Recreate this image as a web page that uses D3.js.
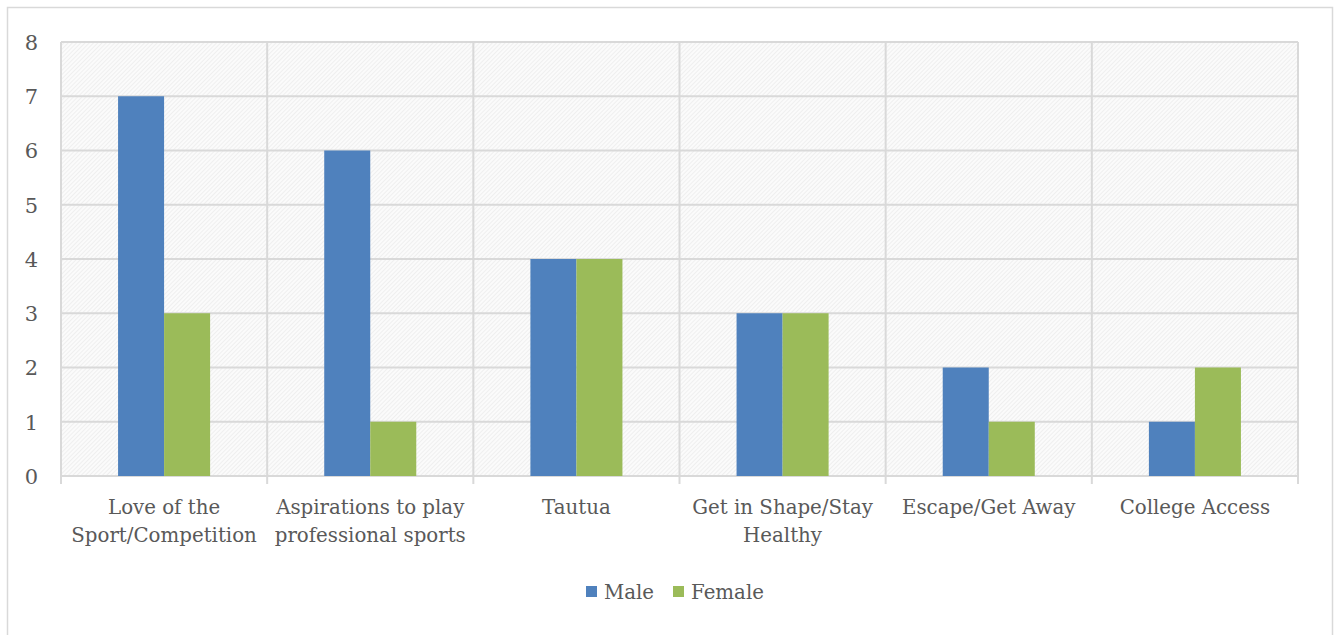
<!DOCTYPE html>
<html>
<head>
<meta charset="utf-8">
<script src="https://cdn.jsdelivr.net/npm/d3@7"></script>
<style>
  html, body { margin: 0; padding: 0; background: #fff; }
  svg { display: block; }
</style>
</head>
<body>
<svg id="chart" width="1341" height="635"></svg>
<script>
// Motivations for playing sports, counted by gender
const categories = [
  ["Love of the", "Sport/Competition"],
  ["Aspirations to play", "professional sports"],
  ["Tautua"],
  ["Get in Shape/Stay", "Healthy"],
  ["Escape/Get Away"],
  ["College Access"]
];
const seriesNames = ["Male", "Female"];
const maleValues = [7, 6, 4, 3, 2, 1];
const femaleValues = [3, 1, 4, 3, 1, 2];
const yTicks = [0, 1, 2, 3, 4, 5, 6, 7, 8];

const colors = { Male: "#4f81bd", Female: "#9bbb59" };
const textColor = "#595959";
const gridColor = "#d9d9d9";
const font = "'DejaVu Serif', 'Liberation Serif', serif";
const fontSize = 19.8;

const svg = d3.select("#chart");
const plot = { left: 61, right: 1298, top: 42, bottom: 476 };

// outer chart frame
svg.append("rect")
  .attr("x", 7.5).attr("y", 7.5)
  .attr("width", 1325).attr("height", 640)
  .attr("fill", "#fff").attr("stroke", gridColor).attr("stroke-width", 1.5);

// fine diagonal hatch for the plot area
const defs = svg.append("defs");
const pat = defs.append("pattern")
  .attr("id", "hatch").attr("patternUnits", "userSpaceOnUse")
  .attr("width", 3).attr("height", 3)
  .attr("patternTransform", "rotate(45)");
pat.append("rect").attr("width", 3).attr("height", 3).attr("fill", "#fbfbfb");
pat.append("line").attr("x1", 0).attr("y1", 0).attr("x2", 0).attr("y2", 3)
  .attr("stroke", "#e4e4e4").attr("stroke-width", 1);

const x0 = d3.scaleBand()
  .domain(d3.range(categories.length))
  .range([plot.left, plot.right])
  .paddingInner(0).paddingOuter(0);

const x1 = d3.scaleBand()
  .domain(seriesNames)
  .range([0, x0.bandwidth()])
  .paddingInner(0)
  .paddingOuter(1.24);

const y = d3.scaleLinear().domain([0, 8]).range([plot.bottom, plot.top]);

svg.append("rect")
  .attr("x", plot.left).attr("y", plot.top)
  .attr("width", plot.right - plot.left).attr("height", plot.bottom - plot.top)
  .attr("fill", "url(#hatch)");

// horizontal gridlines
svg.append("g")
  .selectAll("line").data(yTicks).join("line")
  .attr("x1", plot.left).attr("x2", plot.right)
  .attr("y1", d => y(d)).attr("y2", d => y(d))
  .attr("stroke", gridColor).attr("stroke-width", 2);

// vertical category dividers (extend below the axis as tick marks)
const bounds = d3.range(categories.length + 1).map(i =>
  i < categories.length ? x0(i) : plot.right);
svg.append("g")
  .selectAll("line").data(bounds).join("line")
  .attr("x1", d => d).attr("x2", d => d)
  .attr("y1", plot.top).attr("y2", plot.bottom + 8)
  .attr("stroke", gridColor).attr("stroke-width", 2);

// bars
const rows = categories.map((c, i) => ({ i, Male: maleValues[i], Female: femaleValues[i] }));
svg.append("g")
  .selectAll("g").data(rows).join("g")
  .attr("transform", d => `translate(${x0(d.i)},0)`)
  .selectAll("rect")
  .data(d => seriesNames.map(k => ({ key: k, value: d[k] })))
  .join("rect")
  .attr("x", d => x1(d.key))
  .attr("y", d => y(d.value))
  .attr("width", x1.bandwidth())
  .attr("height", d => y(0) - y(d.value))
  .attr("fill", d => colors[d.key]);

// y axis labels
const yAxis = d3.axisLeft(y).tickValues(yTicks).tickSize(0).tickPadding(23);
const gy = svg.append("g").attr("transform", `translate(${plot.left},0)`).call(yAxis);
gy.select(".domain").remove();
gy.selectAll("text")
  .attr("fill", textColor).attr("font-family", font).attr("font-size", 21)
  .attr("dy", "0.35em");

// category labels
const gx = svg.append("g");
gx.selectAll("text").data(categories).join("text")
  .attr("x", (d, i) => x0(i) + x0.bandwidth() / 2)
  .attr("y", 514)
  .attr("text-anchor", "middle")
  .attr("fill", textColor).attr("font-family", font).attr("font-size", fontSize)
  .selectAll("tspan").data(d => d).join("tspan")
  .attr("x", function () { return d3.select(this.parentNode).attr("x"); })
  .attr("dy", (d, j) => j === 0 ? 0 : 28)
  .text(d => d);

// legend
const legend = svg.append("g");
const legendItems = [{ key: "Male", x: 586 }, { key: "Female", x: 673 }];
legendItems.forEach(it => {
  legend.append("rect")
    .attr("x", it.x).attr("y", 586).attr("width", 11).attr("height", 11)
    .attr("fill", colors[it.key]);
  legend.append("text")
    .attr("x", it.x + 18).attr("y", 599)
    .attr("fill", textColor).attr("font-family", font).attr("font-size", fontSize)
    .text(it.key);
});
</script>
</body>
</html>
